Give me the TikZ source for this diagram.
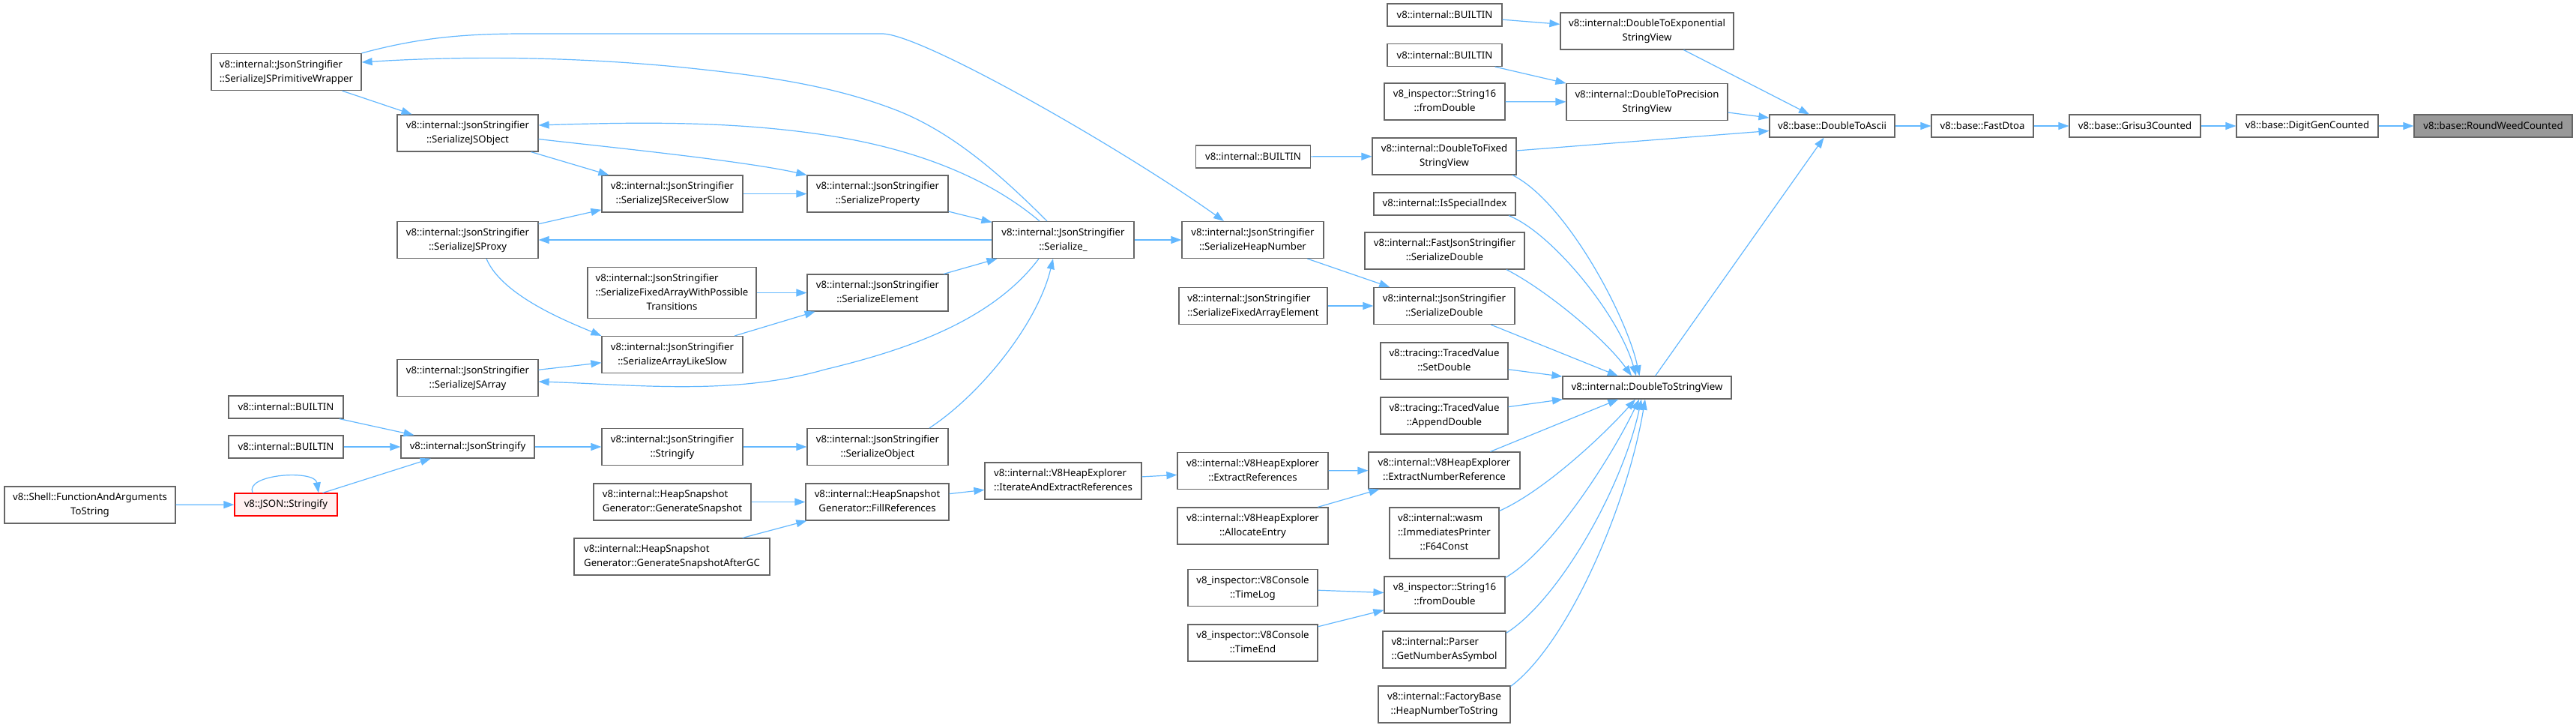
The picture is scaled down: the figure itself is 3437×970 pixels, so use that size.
\documentclass[tikz,border=0pt]{standalone}
\usepackage{fontspec}
\newfontfamily\nodefontfam{Noto Sans}
\usetikzlibrary{arrows.meta}
\definecolor{edgec}{HTML}{63B8FF}
\definecolor{nodeb}{HTML}{666666}
\definecolor{redb}{HTML}{FF0000}
\definecolor{redf}{HTML}{FFF0F0}
\definecolor{grayf}{HTML}{999999}
\newcommand{\lab}[2]{\begin{tabular}{@{}l@{}}#1\\\multicolumn{1}{@{}c@{}}{#2}\end{tabular}}
\tikzset{
  box/.style={draw=nodeb, line width=1.2pt, fill=white, inner sep=0pt,
    font=\nodefontfam\fontsize{13.2}{19}\selectfont},
  h1/.style={minimum height=30pt},
  h2/.style={minimum height=49pt},
  h3/.style={minimum height=68pt},
  hl/.style={draw=redb, fill=redf},
  cur/.style={fill=grayf},
  conn/.style={draw=edgec, line width=1.2pt, -{Triangle[length=14pt,width=10pt]}},
}
\begin{document}
\begin{tikzpicture}[x=1pt,y=-1pt]
\useasboundingbox[fill=white] (0,0) rectangle (3437,970);
% ---- nodes ----
\node[box,h2,minimum width=228pt] (fats) at (120,673.5) {\lab{v8::Shell::FunctionAndArguments}{ToString}};
\node[box,h1,hl,minimum width=137pt] (jsonS) at (381.5,673) {v8::JSON::Stringify};
\node[box,h1,minimum width=153pt] (b1) at (381.5,543) {v8::internal::BUILTIN};
\node[box,h1,minimum width=153pt] (b2) at (381.5,596) {v8::internal::BUILTIN};
\node[box,h2,minimum width=200pt] (sjspw) at (382,96) {\lab{v8::internal::JsonStringifier}{::SerializeJSPrimitiveWrapper}};
\node[box,h1,minimum width=178pt] (jsonify) at (624,596) {v8::internal::JsonStringify};
\node[box,h2,minimum width=188pt] (sjsobj) at (624,177.5) {\lab{v8::internal::JsonStringifier}{::SerializeJSObject}};
\node[box,h2,minimum width=188pt] (sjsproxy) at (624,320) {\lab{v8::internal::JsonStringifier}{::SerializeJSProxy}};
\node[box,h2,minimum width=188pt] (sjsarray) at (624,504) {\lab{v8::internal::JsonStringifier}{::SerializeJSArray}};
\node[box,h2,minimum width=188pt] (recv) at (897,258.5) {\lab{v8::internal::JsonStringifier}{::SerializeJSReceiverSlow}};
\node[box,h3,minimum width=225pt] (fixedpt) at (896.5,390.5) {\lab{v8::internal::JsonStringifier\\::SerializeFixedArrayWithPossible}{Transitions}};
\node[box,h2,minimum width=188pt] (arrlike) at (897,473) {\lab{v8::internal::JsonStringifier}{::SerializeArrayLikeSlow}};
\node[box,h2,minimum width=188pt] (strfy) at (897,596) {\lab{v8::internal::JsonStringifier}{::Stringify}};
\node[box,h2,minimum width=210pt] (gensnap) at (897,669.5) {\lab{v8::internal::HeapSnapshot}{Generator::GenerateSnapshot}};
\node[box,h2,minimum width=261pt] (gensnapgc) at (896.5,742.5) {\lab{v8::internal::HeapSnapshot}{Generator::GenerateSnapshotAfterGC}};
\node[box,h2,minimum width=188pt] (sprop) at (1171,258.5) {\lab{v8::internal::JsonStringifier}{::SerializeProperty}};
\node[box,h2,minimum width=188pt] (selem) at (1171,390.5) {\lab{v8::internal::JsonStringifier}{::SerializeElement}};
\node[box,h2,minimum width=188pt] (sobj) at (1171,596) {\lab{v8::internal::JsonStringifier}{::SerializeObject}};
\node[box,h2,minimum width=191pt] (fillref) at (1170.5,669.5) {\lab{v8::internal::HeapSnapshot}{Generator::FillReferences}};
\node[box,h2,minimum width=189pt] (ser) at (1418.5,320) {\lab{v8::internal::JsonStringifier}{::Serialize\_}};
\node[box,h2,minimum width=209pt] (iter) at (1418.5,641.5) {\lab{v8::internal::V8HeapExplorer}{::IterateAndExtractReferences}};
\node[box,h2,minimum width=189pt] (shn) at (1671.5,320) {\lab{v8::internal::JsonStringifier}{::SerializeHeapNumber}};
\node[box,h2,minimum width=198pt] (sfae) at (1672,408) {\lab{v8::internal::JsonStringifier}{::SerializeFixedArrayElement}};
\node[box,h1,minimum width=153pt] (b3) at (1672,209) {v8::internal::BUILTIN};
\node[box,h2,minimum width=201pt] (extref) at (1671.5,628) {\lab{v8::internal::V8HeapExplorer}{::ExtractReferences}};
\node[box,h2,minimum width=201pt] (alloc) at (1671.5,701.5) {\lab{v8::internal::V8HeapExplorer}{::AllocateEntry}};
\node[box,h2,minimum width=173pt] (timelog) at (1671.5,784) {\lab{v8\_inspector::V8Console}{::TimeLog}};
\node[box,h2,minimum width=173pt] (timeend) at (1671.5,857.5) {\lab{v8\_inspector::V8Console}{::TimeEnd}};
\node[box,h1,minimum width=153pt] (b4) at (1927.5,20) {v8::internal::BUILTIN};
\node[box,h1,minimum width=153pt] (b5) at (1927.5,73.5) {v8::internal::BUILTIN};
\node[box,h2,minimum width=161pt] (s16a) at (1927.5,135.5) {\lab{v8\_inspector::String16}{::fromDouble}};
\node[box,h2,minimum width=192pt] (dtfixed) at (1927,208.5) {\lab{v8::internal::DoubleToFixed}{StringView}};
\node[box,h1,minimum width=189pt] (isspec) at (1927.5,272) {v8::internal::IsSpecialIndex};
\node[box,h2,minimum width=213pt] (fjsd) at (1927.5,334.5) {\lab{v8::internal::FastJsonStringifier}{::SerializeDouble}};
\node[box,h2,minimum width=188pt] (jsd) at (1927,408) {\lab{v8::internal::JsonStringifier}{::SerializeDouble}};
\node[box,h2,minimum width=170pt] (setd) at (1927,481.5) {\lab{v8::tracing::TracedValue}{::SetDouble}};
\node[box,h2,minimum width=170pt] (appd) at (1927,554.5) {\lab{v8::tracing::TracedValue}{::AppendDouble}};
\node[box,h2,minimum width=202pt] (enr) at (1927,627.5) {\lab{v8::internal::V8HeapExplorer}{::ExtractNumberReference}};
\node[box,h3,minimum width=146pt] (f64) at (1927,711) {\lab{v8::internal::wasm\\::ImmediatesPrinter}{::F64Const}};
\node[box,h2,minimum width=161pt] (s16b) at (1927.5,793.5) {\lab{v8\_inspector::String16}{::fromDouble}};
\node[box,h2,minimum width=164pt] (gnas) at (1927,866.5) {\lab{v8::internal::Parser}{::GetNumberAsSymbol}};
\node[box,h2,minimum width=176pt] (hnts) at (1927,939.5) {\lab{v8::internal::FactoryBase}{::HeapNumberToString}};
\node[box,h2,minimum width=231pt] (dtexp) at (2197.5,41.5) {\lab{v8::internal::DoubleToExponential}{StringView}};
\node[box,h2,minimum width=215pt] (dtprec) at (2197.5,136) {\lab{v8::internal::DoubleToPrecision}{StringView}};
\node[box,h1,minimum width=225pt] (dtsv) at (2197.5,517) {v8::internal::DoubleToStringView};
\node[box,h1,minimum width=167pt] (dtascii) at (2444.5,168) {v8::base::DoubleToAscii};
\node[box,h1,minimum width=136pt] (fastdtoa) at (2645,168) {v8::base::FastDtoa};
\node[box,h1,minimum width=175pt] (grisu) at (2848.5,168) {v8::base::Grisu3Counted};
\node[box,h1,minimum width=189pt] (digitgen) at (3078.5,168) {v8::base::DigitGenCounted};
\node[box,h1,cur,minimum width=211pt] (roundweed) at (3326.5,168) {v8::base::RoundWeedCounted};
% ---- connectors ----
\draw[conn] (digitgen) -- (roundweed);
\draw[conn] (grisu) -- (digitgen);
\draw[conn] (fastdtoa) -- (grisu);
\draw[conn] (dtascii) -- (fastdtoa);
\draw[conn] (dtexp) -- (dtascii);
\draw[conn] (dtprec) -- (dtascii);
\draw[conn] (dtfixed) -- (dtascii);
\draw[conn] (dtsv) -- (dtascii);
\draw[conn] (b4) -- (dtexp);
\draw[conn] (b5) -- (dtprec);
\draw[conn] (s16a) -- (dtprec);
\draw[conn] (b3) -- (dtfixed);
\draw[conn] ([shift={(91,0)}]dtfixed.south) .. controls (2088,268) and (2170,420) .. ([shift={(-10,0)}]dtsv.north);
\draw[conn] ([shift={(85.5,0)}]isspec.south) .. controls (2070,310) and (2160,420) .. ([shift={(-14.5,0)}]dtsv.north);
\draw[conn] ([shift={(82.5,0)}]fjsd.south) .. controls (2060,385) and (2140,450) .. ([shift={(-20.5,0)}]dtsv.north);
\draw[conn] (jsd) -- (dtsv);
\draw[conn] (setd) -- (dtsv);
\draw[conn] (appd) -- (dtsv);
\draw[conn] (enr) -- (dtsv);
\draw[conn] ([shift={(0,5)}]f64.north east) .. controls (2060,655) and (2140,580) .. ([shift={(-15.5,0)}]dtsv.south);
\draw[conn] ([shift={(0,2)}]s16b.north east) .. controls (2070,735) and (2150,610) .. ([shift={(-10.5,0)}]dtsv.south);
\draw[conn] ([shift={(0,3)}]gnas.north east) .. controls (2080,800) and (2165,650) .. ([shift={(-7.5,0)}]dtsv.south);
\draw[conn] ([shift={(0,1)}]hnts.north east) .. controls (2090,860) and (2170,680) .. ([shift={(-2.5,0)}]dtsv.south);
\draw[conn] (shn) -- (jsd);
\draw[conn] (sfae) -- (jsd);
\draw[conn] (ser) -- (shn);
\draw[conn] (sjspw.north east) .. controls (560,50) and (620,45) .. (700,45) -- (1177,45) .. controls (1230,45) and (1500,200) .. ([shift={(-38.5,0)}]shn.north);
\draw[conn] ([shift={(-21.5,0)}]ser.north) .. controls (1339,237) and (1273,177) .. (1196,147) .. controls (1106,112) and (1008,100) .. (912,90) .. controls (770,76) and (627,74) .. ([shift={(0,-13)}]sjspw.east);
\draw[conn] ([shift={(-31.5,0)}]ser.north) .. controls (1309,229) and (1202,195) .. (1100,180) .. controls (975,161) and (848,163) .. ([shift={(0,-10.5)}]sjsobj.east);
\draw[conn] ([shift={(0,8)}]sjsobj.east) .. controls (800,195) and (990,214) .. (sprop.north west);
\draw[conn] (sjspw) -- (sjsobj);
\draw[conn] (sjsobj) -- (recv);
\draw[conn] (recv) -- (sprop);
\draw[conn] (sprop) -- (ser);
\draw[conn] (ser) -- (sjsproxy);
\draw[conn] (sjsproxy) -- (recv);
\draw[conn] ([shift={(25,0)}]sjsproxy.south) .. controls (670,395) and (760,430) .. (arrlike.north west);
\draw[conn] (fixedpt) -- (selem);
\draw[conn] (arrlike) -- (selem);
\draw[conn] (selem) -- (ser);
\draw[conn] (sjsarray) -- (arrlike);
\draw[conn] ([shift={(-32.5,0)}]ser.south) .. controls (1322,430) and (1204,468) .. (1100,493) .. controls (978,528) and (848,513) .. ([shift={(0,5)}]sjsarray.east);
\draw[conn] ([shift={(69,0)}]sobj.north) .. controls (1310,525) and (1385,430) .. ([shift={(-13.5,0)}]ser.south);
\draw[conn] (strfy) -- (sobj);
\draw[conn] (jsonify) -- (strfy);
\draw[conn] (b1) -- (jsonify);
\draw[conn] (b2) -- (jsonify);
\draw[conn] (jsonS) -- (jsonify);
\draw[conn] ([shift={(-44.5,0)}]jsonS.north) .. controls (326,632) and (420,626) .. ([shift={(43.5,0)}]jsonS.north);
\draw[conn] (fats) -- (jsonS);
\draw[conn] (gensnap) -- (fillref);
\draw[conn] (gensnapgc) -- (fillref);
\draw[conn] (fillref) -- (iter);
\draw[conn] (iter) -- (extref);
\draw[conn] (extref) -- (enr);
\draw[conn] (alloc) -- (enr);
\draw[conn] (timelog) -- (s16b);
\draw[conn] (timeend) -- (s16b);
\end{tikzpicture}
\end{document}
